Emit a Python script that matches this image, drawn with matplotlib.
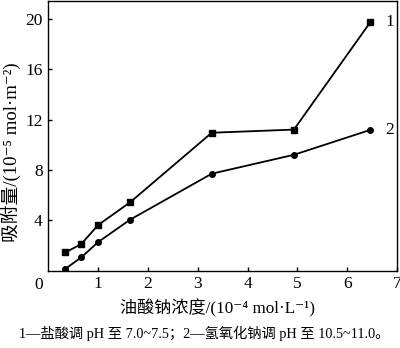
import matplotlib
matplotlib.use("Agg")
import matplotlib.pyplot as plt

plt.rcParams['font.family'] = ['Liberation Serif', 'Noto Sans CJK SC', 'DejaVu Serif']

# Sodium oleate concentration (10^-4 mol/L)
conc = [0.34, 0.66, 1.0, 1.64, 3.28, 4.93, 6.46]
# Adsorption (10^-5 mol/m^2)
ads_hcl = [1.45, 2.12, 3.63, 5.43, 10.95, 11.2, 19.7]
ads_naoh = [0.15, 1.06, 2.28, 4.05, 7.7, 9.2, 11.17]
series_labels = ["1", "2"]

xticks = [1, 2, 3, 4, 5, 6, 7]
yticks = [4, 8, 12, 16, 20]

fig = plt.figure(figsize=(4.0, 3.48), dpi=100)
ax = fig.add_axes([0.121, 0.222, 0.8715, 0.775])

ax.plot(conc, ads_hcl, color='black', lw=1.3, marker='s', ms=3.8)
ax.plot(conc, ads_naoh, color='black', lw=1.3, marker='o', ms=4.0)

ax.text(conc[-1] + 0.3, ads_hcl[-1], series_labels[0], fontsize=12.5, va='center', ha='left')
ax.text(conc[-1] + 0.3, ads_naoh[-1], series_labels[1], fontsize=12.5, va='center', ha='left')

ax.set_xlim(0, 7)
ax.set_ylim(0, 21.4)
ax.set_xticks(xticks)
ax.set_yticks(yticks)
ax.tick_params(direction='in', length=3, width=1, labelsize=12.5, pad=4)
for s in ax.spines.values():
    s.set_linewidth(1.0)

ax.text(-0.1, -0.5, "0", fontsize=12.5, ha='right', va='top')

ax.set_xlabel("油酸钠浓度/(10⁻⁴ mol·L⁻¹)", fontsize=12.3)
ax.xaxis.set_label_coords(0.486, -0.105)
ax.set_ylabel("吸附量/(10⁻⁵ mol·m⁻²)", fontsize=13.5)
ax.yaxis.set_label_coords(-0.078, 0.44)

fig.text(0.51, 0.042, "1—盐酸调 pH 至 7.0~7.5；2—氢氧化钠调 pH 至 10.5~11.0。",
         fontsize=10.3, ha='center', va='center')

fig.savefig("out.png", dpi=100)
